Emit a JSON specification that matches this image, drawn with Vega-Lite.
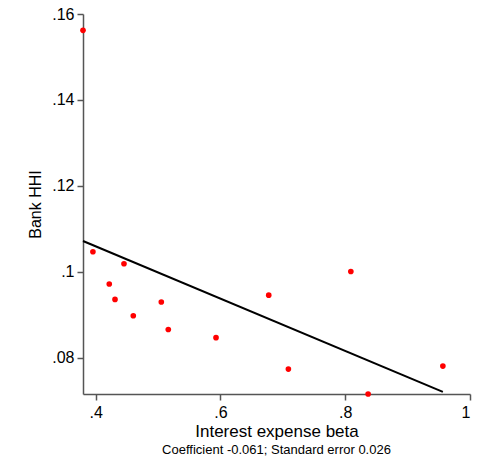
{
  "$schema": "https://vega.github.io/schema/vega-lite/v6.json",
  "width": 387,
  "height": 380,
  "autosize": {"type": "none"},
  "padding": {"left": 83, "top": 14, "right": 11, "bottom": 68},
  "background": "white",
  "config": {
    "view": {"stroke": null},
    "font": "Liberation Sans",
    "axis": {
      "grid": false,
      "domainColor": "#555555",
      "tickColor": "#555555",
      "domainWidth": 1.5,
      "tickWidth": 1.5,
      "tickSize": 6,
      "labelFontSize": 16,
      "labelColor": "#000000",
      "titleFontSize": 16,
      "titleFontWeight": "normal",
      "titleColor": "#000000",
      "labelFont": "Liberation Sans",
      "titleFont": "Liberation Sans"
    }
  },
  "title": {
    "text": "Coefficient -0.061; Standard error 0.026",
    "orient": "bottom",
    "fontSize": 13,
    "fontWeight": "normal",
    "font": "Liberation Sans",
    "color": "#000000",
    "offset": 5,
    "anchor": "middle"
  },
  "datasets": {
    "points": [
      {"beta": 0.3797, "hhi": 0.1562},
      {"beta": 0.3956, "hhi": 0.1047},
      {"beta": 0.4454, "hhi": 0.1019},
      {"beta": 0.4218, "hhi": 0.0972},
      {"beta": 0.4310, "hhi": 0.0936},
      {"beta": 0.4603, "hhi": 0.0898},
      {"beta": 0.5052, "hhi": 0.0930},
      {"beta": 0.5164, "hhi": 0.0866},
      {"beta": 0.5929, "hhi": 0.0847},
      {"beta": 0.6774, "hhi": 0.0946},
      {"beta": 0.7089, "hhi": 0.0774},
      {"beta": 0.8090, "hhi": 0.1001},
      {"beta": 0.8367, "hhi": 0.0716},
      {"beta": 0.9565, "hhi": 0.0781}
    ],
    "fit": [
      {"beta": 0.3797, "hhi": 0.1072},
      {"beta": 0.9565, "hhi": 0.0721}
    ]
  },
  "layer": [
    {
      "data": {"name": "fit"},
      "mark": {"type": "line", "color": "#000000", "strokeWidth": 2},
      "encoding": {
        "x": {"field": "beta", "type": "quantitative"},
        "y": {"field": "hhi", "type": "quantitative"}
      }
    },
    {
      "data": {"name": "points"},
      "mark": {"type": "circle", "color": "#ff0000", "opacity": 1, "size": 32},
      "encoding": {
        "x": {
          "field": "beta",
          "type": "quantitative",
          "title": "Interest expense beta",
          "scale": {"domain": [0.3797, 1], "nice": false, "zero": false},
          "axis": {
            "values": [0.4, 0.6, 0.8, 1],
            "labelExpr": "replace(format(datum.value, '.2~f'), /^0/, '')",
            "labelPadding": 4,
            "titlePadding": 3,
            "titleFontSize": 17
          }
        },
        "y": {
          "field": "hhi",
          "type": "quantitative",
          "title": "Bank HHI",
          "scale": {"domain": [0.0716, 0.16], "nice": false, "zero": false},
          "axis": {
            "values": [0.08, 0.1, 0.12, 0.14, 0.16],
            "labelExpr": "replace(format(datum.value, '.2~f'), /^0/, '')",
            "labelPadding": 3,
            "titlePadding": 8
          }
        }
      }
    }
  ]
}
